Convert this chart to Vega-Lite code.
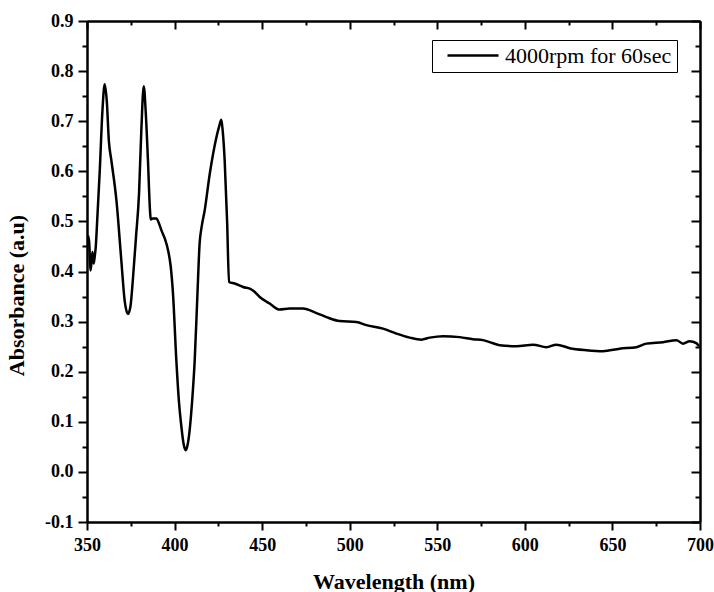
{
  "$schema": "https://vega.github.io/schema/vega-lite/v6.json",
  "width": 613,
  "height": 501,
  "autosize": {"type": "none"},
  "padding": {"left": 87, "top": 21, "right": 14, "bottom": 70},
  "background": "white",
  "datasets": {
    "spec": [
      {"w": 350.5, "a": 0.472}, {"w": 351.2, "a": 0.46}, {"w": 352.1, "a": 0.402}, {"w": 353.1, "a": 0.439},
      {"w": 353.8, "a": 0.416}, {"w": 354.4, "a": 0.43}, {"w": 355.0, "a": 0.449}, {"w": 355.8, "a": 0.5},
      {"w": 357.3, "a": 0.602}, {"w": 358.8, "a": 0.72}, {"w": 360.1, "a": 0.774}, {"w": 361.3, "a": 0.74},
      {"w": 362.5, "a": 0.66}, {"w": 363.9, "a": 0.622}, {"w": 366.8, "a": 0.542}, {"w": 369.6, "a": 0.422},
      {"w": 371.5, "a": 0.342}, {"w": 373.4, "a": 0.315}, {"w": 374.8, "a": 0.33}, {"w": 376.3, "a": 0.389},
      {"w": 378.0, "a": 0.47}, {"w": 379.7, "a": 0.555}, {"w": 381.0, "a": 0.68}, {"w": 382.4, "a": 0.77},
      {"w": 383.5, "a": 0.72}, {"w": 384.8, "a": 0.622}, {"w": 386.0, "a": 0.52}, {"w": 386.4, "a": 0.504},
      {"w": 387.5, "a": 0.506}, {"w": 389.6, "a": 0.506}, {"w": 391.0, "a": 0.497}, {"w": 392.5, "a": 0.482},
      {"w": 394.5, "a": 0.465}, {"w": 396.3, "a": 0.442}, {"w": 397.8, "a": 0.41}, {"w": 399.1, "a": 0.356},
      {"w": 401.0, "a": 0.223}, {"w": 402.5, "a": 0.14}, {"w": 403.9, "a": 0.09}, {"w": 405.2, "a": 0.055},
      {"w": 406.4, "a": 0.043}, {"w": 407.5, "a": 0.055}, {"w": 408.6, "a": 0.083}, {"w": 410.0, "a": 0.14},
      {"w": 411.5, "a": 0.223}, {"w": 413.0, "a": 0.35}, {"w": 414.3, "a": 0.456}, {"w": 415.5, "a": 0.49},
      {"w": 417.2, "a": 0.522}, {"w": 420.1, "a": 0.595}, {"w": 423.9, "a": 0.668}, {"w": 425.5, "a": 0.69},
      {"w": 426.7, "a": 0.703}, {"w": 427.5, "a": 0.68}, {"w": 428.6, "a": 0.622}, {"w": 430.0, "a": 0.5},
      {"w": 431.1, "a": 0.379}, {"w": 434.3, "a": 0.376}, {"w": 437.3, "a": 0.372}, {"w": 439.1, "a": 0.369},
      {"w": 442.9, "a": 0.366}, {"w": 445.5, "a": 0.36}, {"w": 448.6, "a": 0.349}, {"w": 454.3, "a": 0.336},
      {"w": 460.0, "a": 0.324}, {"w": 465.7, "a": 0.326}, {"w": 473.3, "a": 0.326}, {"w": 481.0, "a": 0.317},
      {"w": 486.7, "a": 0.309}, {"w": 494.3, "a": 0.301}, {"w": 503.8, "a": 0.299}, {"w": 509.5, "a": 0.293},
      {"w": 519.0, "a": 0.286}, {"w": 526.7, "a": 0.276}, {"w": 534.3, "a": 0.268}, {"w": 540.9, "a": 0.264},
      {"w": 545.7, "a": 0.268}, {"w": 553.3, "a": 0.271}, {"w": 562.8, "a": 0.269}, {"w": 570.4, "a": 0.265},
      {"w": 576.1, "a": 0.263}, {"w": 579.9, "a": 0.259}, {"w": 585.6, "a": 0.253}, {"w": 595.2, "a": 0.251},
      {"w": 604.7, "a": 0.254}, {"w": 612.3, "a": 0.249}, {"w": 618.0, "a": 0.254}, {"w": 625.6, "a": 0.247},
      {"w": 635.1, "a": 0.243}, {"w": 644.6, "a": 0.241}, {"w": 654.1, "a": 0.246}, {"w": 663.7, "a": 0.249},
      {"w": 669.4, "a": 0.256}, {"w": 678.9, "a": 0.259}, {"w": 686.5, "a": 0.263}, {"w": 690.3, "a": 0.256},
      {"w": 694.1, "a": 0.261}, {"w": 697.9, "a": 0.257}, {"w": 699.5, "a": 0.251}
    ]
  },
  "data": {"name": "spec"},
  "layer": [
    {
      "mark": {"type": "line", "strokeWidth": 2.5, "interpolate": "monotone"},
      "encoding": {
        "x": {
          "field": "w", "type": "quantitative",
          "scale": {"domain": [350, 700], "nice": false, "zero": false},
          "axis": {
            "orient": "bottom",
            "values": [350, 400, 450, 500, 550, 600, 650, 700],
            "tickSize": 8, "labelPadding": 6,
            "title": "Wavelength (nm)", "titleY": 66, "titleBaseline": "alphabetic"
          }
        },
        "y": {
          "field": "a", "type": "quantitative",
          "scale": {"domain": [-0.1, 0.9], "nice": false, "zero": false},
          "axis": {
            "orient": "left",
            "values": [-0.1, 0, 0.1, 0.2, 0.3, 0.4, 0.5, 0.6, 0.7, 0.8, 0.9],
            "format": ".1f",
            "labelExpr": "replace(datum.label, '\u2212', '-')",
            "tickSize": 9, "labelPadding": 5,
            "title": "Absorbance (a.u)", "titleX": -64, "titleY": 274,
            "titleBaseline": "alphabetic", "titleAlign": "center", "titleAngle": -90
          }
        },
        "color": {
          "datum": "4000rpm for 60sec",
          "scale": {"range": ["black"]},
          "legend": {
            "title": null, "orient": "none", "legendX": 345, "legendY": 19,
            "strokeColor": "black", "fillColor": "white",
            "padding": 5, "symbolType": "stroke", "symbolSize": 2601,
            "symbolStrokeWidth": 2.5, "symbolOffset": 9, "labelOffset": 5,
            "clipHeight": 21,
            "labelFont": "Liberation Serif", "labelFontSize": 22, "labelColor": "black",
            "labelLimit": 0
          }
        }
      }
    },
    {
      "mark": {"type": "line", "opacity": 0},
      "encoding": {
        "x": {"field": "w", "type": "quantitative",
          "scale": {"domain": [350, 700], "nice": false, "zero": false},
          "axis": {"orient": "bottom", "values": [375, 425, 475, 525, 575, 625, 675], "tickSize": 4, "labels": false, "title": null}},
        "y": {"field": "a", "type": "quantitative",
          "scale": {"domain": [-0.1, 0.9], "nice": false, "zero": false},
          "axis": {"orient": "left", "values": [-0.05, 0.05, 0.15, 0.25, 0.35, 0.45, 0.55, 0.65, 0.75, 0.85], "tickSize": 5, "labels": false, "title": null}}
      }
    },
    {
      "mark": {"type": "line", "opacity": 0},
      "encoding": {
        "x": {"field": "w", "type": "quantitative",
          "scale": {"domain": [350, 700], "nice": false, "zero": false},
          "axis": {"orient": "top", "values": [350, 400, 450, 500, 550, 600, 650, 700], "tickSize": -8, "labels": false, "title": null}},
        "y": {"field": "a", "type": "quantitative",
          "scale": {"domain": [-0.1, 0.9], "nice": false, "zero": false},
          "axis": {"orient": "right", "values": [-0.1, 0, 0.1, 0.2, 0.3, 0.4, 0.5, 0.6, 0.7, 0.8, 0.9], "tickSize": -9, "labels": false, "title": null}}
      }
    },
    {
      "mark": {"type": "line", "opacity": 0},
      "encoding": {
        "x": {"field": "w", "type": "quantitative",
          "scale": {"domain": [350, 700], "nice": false, "zero": false},
          "axis": {"orient": "top", "values": [375, 425, 475, 525, 575, 625, 675], "tickSize": -4, "labels": false, "title": null}},
        "y": {"field": "a", "type": "quantitative",
          "scale": {"domain": [-0.1, 0.9], "nice": false, "zero": false},
          "axis": {"orient": "right", "values": [-0.05, 0.05, 0.15, 0.25, 0.35, 0.45, 0.55, 0.65, 0.75, 0.85], "tickSize": -5, "labels": false, "title": null}}
      }
    }
  ],
  "resolve": {"axis": {"x": "independent", "y": "independent"}},
  "config": {
    "view": {"stroke": null},
    "axis": {
      "grid": false, "labelFlush": false, "labelOverlap": false,
      "domainColor": "black", "domainWidth": 2,
      "tickColor": "black", "tickWidth": 2,
      "labelFont": "Liberation Serif", "labelFontWeight": "bold", "labelFontSize": 18, "labelColor": "black",
      "titleFont": "Liberation Serif", "titleFontWeight": "bold", "titleFontSize": 22, "titleColor": "black"
    }
  }
}
